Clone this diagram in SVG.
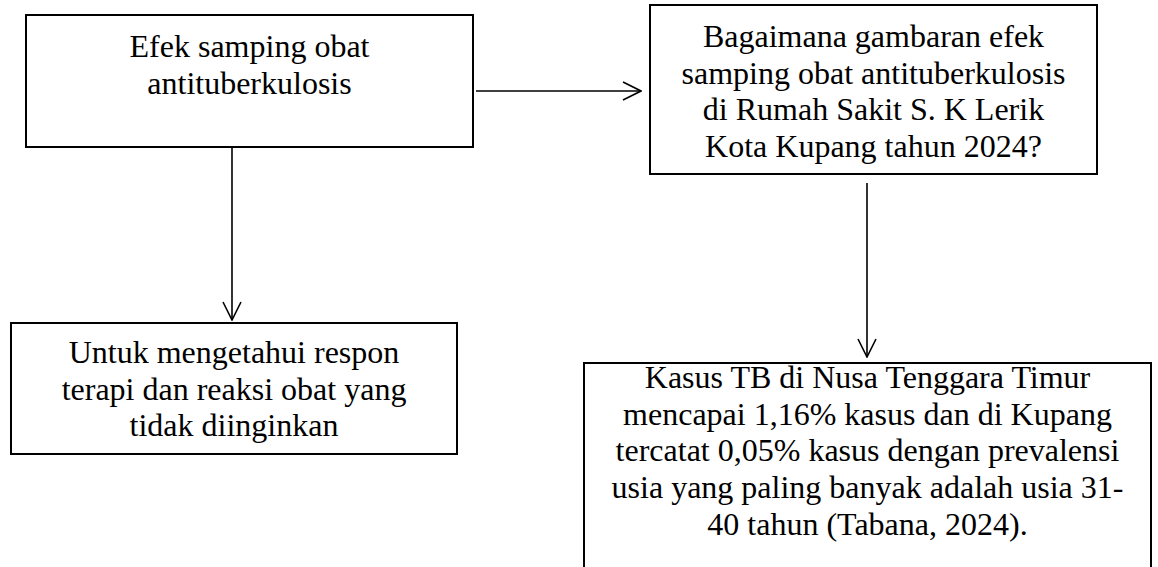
<svg xmlns="http://www.w3.org/2000/svg" width="1158" height="567" viewBox="0 0 1158 567">
<style>
.box{fill:#fff;stroke:#000;stroke-width:2}
.t{font-family:"Liberation Serif","Times New Roman",serif;font-size:32px;fill:#000;text-anchor:middle}
.c{stroke:#000;stroke-width:1.6;fill:none}
</style>
<defs>
<marker id="arr" viewBox="0 0 20 20" refX="19" refY="10" markerWidth="20" markerHeight="20" markerUnits="userSpaceOnUse" orient="auto">
<path d="M1,1 L19,10 L1,19" fill="none" stroke="#000" stroke-width="1.6"/>
</marker>
</defs>
<rect width="1158" height="567" fill="#fff"/>
<g id="connectors">
<line class="c" x1="476" y1="91" x2="641" y2="91" marker-end="url(#arr)"/>
<line class="c" x1="232" y1="147" x2="232" y2="320" marker-end="url(#arr)"/>
<line class="c" x1="867" y1="183" x2="867" y2="357" marker-end="url(#arr)"/>
</g>
<g id="node-efek">
<rect class="box" x="26" y="15" width="447" height="132"/>
<text class="t" x="249.5" y="57">Efek samping obat</text>
<text class="t" x="249.5" y="93.7">antituberkulosis</text>
</g>
<g id="node-bagaimana">
<rect class="box" x="650" y="5" width="447" height="169"/>
<text class="t" x="873.5" y="47">Bagaimana gambaran efek</text>
<text class="t" x="873.5" y="83.7">samping obat antituberkulosis</text>
<text class="t" x="873.5" y="120.4">di Rumah Sakit S. K Lerik</text>
<text class="t" x="873.5" y="157.1">Kota Kupang tahun 2024?</text>
</g>
<g id="node-untuk">
<rect class="box" x="11" y="323" width="446" height="131"/>
<text class="t" x="234" y="363">Untuk mengetahui respon</text>
<text class="t" x="234" y="399.7">terapi dan reaksi obat yang</text>
<text class="t" x="234" y="436.4">tidak diinginkan</text>
</g>
<g id="node-kasus">
<rect class="box" x="584" y="363" width="567" height="220"/>
<text class="t" x="867.5" y="388">Kasus TB di Nusa Tenggara Timur</text>
<text class="t" x="867.5" y="424.7">mencapai 1,16% kasus dan di Kupang</text>
<text class="t" x="867.5" y="461.4">tercatat 0,05% kasus dengan prevalensi</text>
<text class="t" x="867.5" y="498.1">usia yang paling banyak adalah usia 31-</text>
<text class="t" x="867.5" y="534.8">40 tahun (Tabana, 2024).</text>
</g>
</svg>
